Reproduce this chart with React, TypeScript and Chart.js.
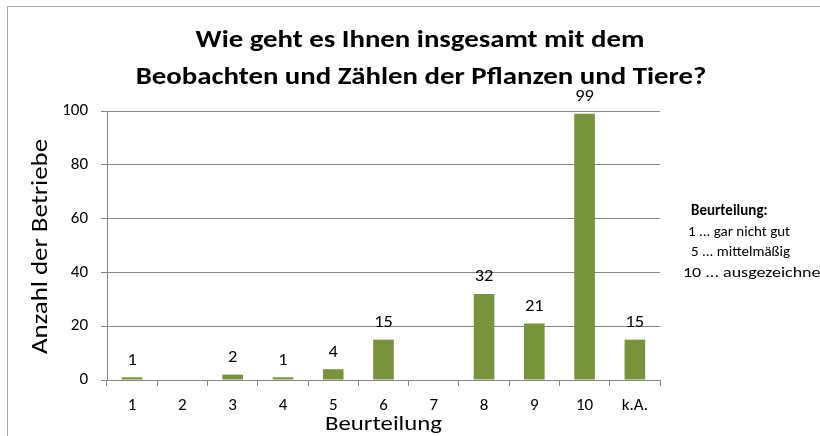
import { useEffect, useRef } from 'react';
import { Chart, registerables } from 'chart.js';

Chart.register(...registerables);

// ---- data ----
const categories = ['1', '2', '3', '4', '5', '6', '7', '8', '9', '10', 'k.A.'];
const counts = [1, 0, 2, 1, 4, 15, 0, 32, 21, 99, 15];
const yMax = 100;
const yStep = 20;
const titleLines = ['Wie geht es Ihnen insgesamt mit dem', 'Beobachten und Zählen der Pflanzen und Tiere?'];
const legendHeading = 'Beurteilung:';
const legendLines = ['1 ... gar nicht gut', '5 ... mittelmäßig', '10 ... ausgezeichnet'];
const yTitle = 'Anzahl der Betriebe';
const xTitle = 'Beurteilung';

// ---- style ----
const FONT = 'Calibri, Carlito, Lato, sans-serif';
const BAR = '#77933C';
const AXIS = '#868686';

function stretchedText(ctx: any, text: string, x: number, y: number, sx: number, rot = 0) {
  ctx.save();
  ctx.translate(x, y);
  if (rot) ctx.rotate(rot);
  ctx.scale(sx, 1);
  ctx.fillText(text, 0, 0);
  ctx.restore();
}

const decorPlugin = {
  id: 'decor',
  beforeDraw(chart: any) {
    const { ctx, width, height } = chart;
    ctx.save();
    ctx.fillStyle = '#ffffff';
    ctx.fillRect(0, 0, width, height);
    ctx.strokeStyle = '#a6a6a6';
    ctx.lineWidth = 1;
    ctx.beginPath();
    ctx.moveTo(7.5, height);
    ctx.lineTo(7.5, 6.5);
    ctx.lineTo(width, 6.5);
    ctx.stroke();
    ctx.restore();
  },
  afterDatasetsDraw(chart: any) {
    const { ctx } = chart;
    const meta = chart.getDatasetMeta(0);
    const data = chart.data.datasets[0].data as number[];
    ctx.save();
    ctx.fillStyle = '#000';
    ctx.font = `16px ${FONT}`;
    ctx.textAlign = 'center';
    ctx.textBaseline = 'middle';
    meta.data.forEach((el: any, i: number) => {
      if (data[i] > 0) stretchedText(ctx, String(data[i]), el.x, el.y - 16.5, 1.15);
    });
    ctx.restore();
  },
  afterDraw(chart: any) {
    const { ctx, chartArea } = chart;
    ctx.save();
    ctx.fillStyle = '#000';
    // chart title
    ctx.textAlign = 'center';
    ctx.textBaseline = 'alphabetic';
    ctx.font = `bold 24px ${FONT}`;
    stretchedText(ctx, titleLines[0], 420, 46.5, 1.2);
    stretchedText(ctx, titleLines[1], 421, 83.5, 1.2);
    // axis titles
    ctx.textBaseline = 'middle';
    ctx.font = `21px ${FONT}`;
    stretchedText(ctx, xTitle, (chartArea.left + chartArea.right) / 2, 425, 1.18);
    ctx.font = `22px ${FONT}`;
    stretchedText(ctx, yTitle, 41, (chartArea.top + chartArea.bottom) / 2 + 1, 1.22, -Math.PI / 2);
    // legend note
    ctx.textAlign = 'left';
    ctx.font = `bold 15px ${FONT}`;
    ctx.fillText(legendHeading, 691, 211);
    ctx.font = `15px ${FONT}`;
    const xs = [688, 691, 683];
    const ys = [232, 252, 273];
    const stretch = [1, 1, 1.2];
    legendLines.forEach((t, i) => stretchedText(ctx, t, xs[i], ys[i], stretch[i]));
    ctx.restore();
  },
};

export default function App() {
  const ref = useRef<HTMLCanvasElement | null>(null);
  useEffect(() => {
    if (!ref.current) return;
    const chart = new Chart(ref.current, {
      type: 'bar',
      data: {
        labels: categories,
        datasets: [
          {
            data: counts,
            backgroundColor: BAR,
            borderWidth: 0,
            barPercentage: 0.41,
            categoryPercentage: 1,
          },
        ],
      },
      options: {
        responsive: false,
        animation: false,
        devicePixelRatio: 1,
        layout: { padding: { top: 111, right: 160, bottom: 0, left: 0 } },
        plugins: { legend: { display: false }, tooltip: { enabled: false }, title: { display: false } },
        scales: {
          x: {
            type: 'category',
            offset: true,
            grid: { offset: true, drawOnChartArea: false, drawTicks: true, tickLength: 6, color: AXIS },
            border: { color: AXIS, width: 1 },
            ticks: { color: '#000', font: { family: FONT, size: 17 }, padding: 10, maxRotation: 0, autoSkip: false },
            afterFit(scale: any) {
              scale.height = 56;
            },
          },
          y: {
            min: 0,
            max: yMax,
            grid: { color: AXIS, tickLength: 6, lineWidth: 1 },
            border: { color: AXIS, width: 1 },
            ticks: { stepSize: yStep, color: '#000', font: { family: FONT, size: 17 }, padding: 13 },
            afterFit(scale: any) {
              scale.width = 107;
            },
          },
        },
      },
      plugins: [decorPlugin],
    });
    return () => chart.destroy();
  }, []);
  return (
    <div style={{ position: 'absolute', left: 0, top: 0, width: 820, height: 436 }}>
      <canvas ref={ref} width={820} height={436} style={{ display: 'block' }} />
    </div>
  );
}
